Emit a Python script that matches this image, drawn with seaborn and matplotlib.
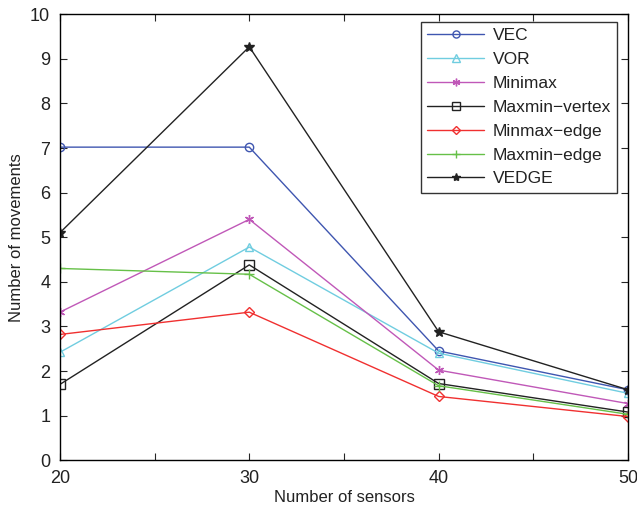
import pandas as pd
import matplotlib
matplotlib.use("Agg")
import matplotlib.pyplot as plt
import seaborn as sns

# Datos
sensores = [20, 30, 40, 50]
vec = [7.02, 7.02, 2.45, 1.58]
vor = [2.42, 4.78, 2.40, 1.50]
minimax = [3.32, 5.40, 2.02, 1.27]
maxmin_vertex = [1.70, 4.38, 1.72, 1.08]
minmax_edge = [2.82, 3.32, 1.43, 0.98]
maxmin_edge = [4.30, 4.17, 1.67, 1.03]
vedge = [5.10, 9.27, 2.88, 1.58]

nombres = ['VEC', 'VOR', 'Minimax', 'Maxmin\u2212vertex', 'Minmax\u2212edge',
           'Maxmin\u2212edge', 'VEDGE']
series = [vec, vor, minimax, maxmin_vertex, minmax_edge, maxmin_edge, vedge]
colores = ['#3f56b0', '#70cde0', '#c058b8', '#222222', '#f03030', '#66c048', '#222222']
marcadores = ['o', '^', (6, 2, 0), 's', 'D', '+', '*']
tamanos = [6, 6, 6.5, 6.5, 5, 7, 7]
rellenos = ['none', 'none', 'none', 'none', 'none', 'none', '#222222']

filas = []
for nombre, valores in zip(nombres, series):
    for x, y in zip(sensores, valores):
        filas.append({'Sensores': x, 'Movimientos': y, 'Metodo': nombre})
df = pd.DataFrame(filas)

sns.set_style("ticks")
plt.rcParams['font.family'] = ['Liberation Sans', 'DejaVu Sans']

fig = plt.figure(figsize=(6.37, 5.08), dpi=100)
ax = fig.add_axes([0.094, 0.094, 0.892, 0.878])

for nombre, color, m, ms, fc in zip(nombres, colores, marcadores, tamanos, rellenos):
    sub = df[df['Metodo'] == nombre]
    sns.lineplot(data=sub, x='Sensores', y='Movimientos', ax=ax, color=color,
                 marker=m, markersize=ms, markerfacecolor=fc, markeredgecolor=color,
                 markeredgewidth=1.0, linewidth=1.0, label=nombre)

ax.set_xlim(20, 50)
ax.set_ylim(0, 10)
ax.set_xticks([20, 25, 30, 35, 40, 45, 50])
ax.set_xticklabels(['20', '', '30', '', '40', '', '50'])
ax.set_yticks(range(0, 11))
ax.tick_params(direction='in', top=True, right=True, labelsize=13, length=5, width=0.8,
               labelcolor='#222222')
ax.tick_params(axis='x', pad=7)
ax.tick_params(axis='y', pad=7)
for s in ax.spines.values():
    s.set_linewidth(1.0)
    s.set_color('black')
ax.set_xlabel('Number of sensors', fontsize=12, labelpad=2, color='#222222')
ax.set_ylabel('Number of movements', fontsize=12, labelpad=4, color='#222222')

leg = ax.legend(loc='upper right', bbox_to_anchor=(0.981, 0.982), borderaxespad=0,
                fontsize=12.5, frameon=True, fancybox=False, edgecolor='black',
                handlelength=3.3, handletextpad=0.5, markerscale=0.85,
                borderpad=0.35, labelspacing=0.5)
leg.get_frame().set_linewidth(1.0)
for t in leg.get_texts():
    t.set_color('#222222')

fig.savefig('out.png', dpi=100)
